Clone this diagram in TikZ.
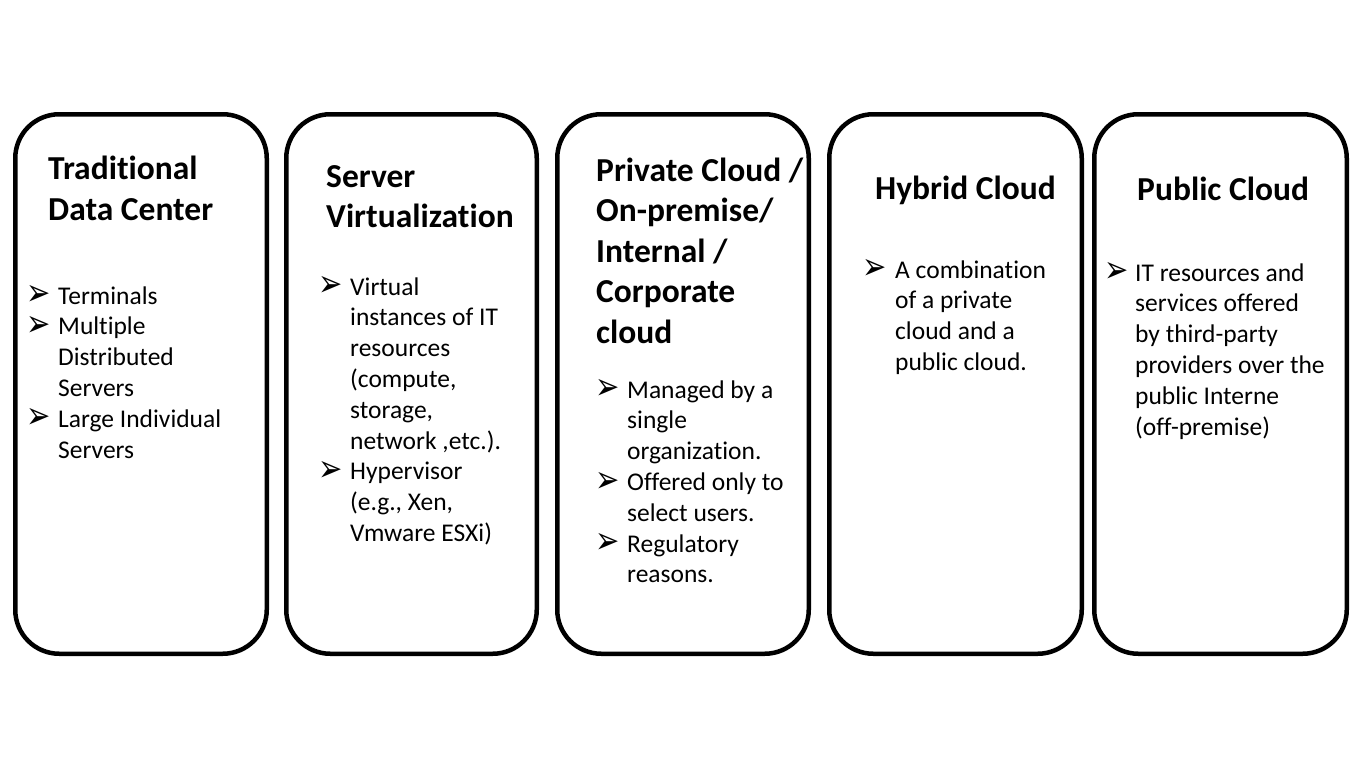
\documentclass[tikz,border=0pt]{standalone}
\usepackage{fontspec}
\setmainfont{Carlito}[RawFeature={-liga,-clig,-dlig}]
\newfontfamily\symfont{DejaVu Sans}
\tikzset{
  cbox/.style={draw=black, line width=4.5pt, rounded corners=44pt, rectangle, inner sep=0pt, minimum height=539.5pt, fill=white},
  titletxt/.style={anchor=base west, inner sep=0pt, font=\fontsize{33.5}{40.6}\selectfont\bfseries},
  bodytxt/.style={anchor=base west, inner sep=0pt, font=\fontsize{25.5}{30.8}\selectfont},
  bul/.style={anchor=base west, inner sep=0pt, yshift=-0.5pt, xshift=-2pt, text height=14pt, text depth=0pt, font=\symfont\fontsize{29}{29}\selectfont}
}
\newcommand\txtlines[6]{%
  \foreach \t [count=\i from 0] in {#6}
    \node[#5] (#1\i) at (#2, {#3+\i*#4}) {\t};}
\newcommand\arrbul{\smash{\raisebox{-1.2pt}{\scalebox{1}[1.3]{➢}}}}
\begin{document}
\begin{tikzpicture}[x=1pt, y=-1pt]
\fill[white] (0,0) rectangle (1365,768);
\useasboundingbox (0,0) rectangle (1365,768);
% boxes
\node[cbox, minimum width=251.5pt] (box1) at (141,384) {};
\node[cbox, minimum width=250.5pt] (box2) at (411.5,384) {};
\node[cbox, minimum width=251.5pt] (box3) at (683,384) {};
\node[cbox, minimum width=252.5pt] (box4) at (955.5,384) {};
\node[cbox, minimum width=252.5pt] (box5) at (1220.5,384) {};
% titles
\txtlines{ta}{48}{179}{41}{titletxt}{Traditional, Data Center}
\txtlines{tb}{326}{187}{40.5}{titletxt}{Server, Virtualization}
\txtlines{tc}{596}{181}{40.6}{titletxt}{Private Cloud /, On-premise/, Internal /, Corporate, cloud}
\txtlines{td}{875}{199}{40.6}{titletxt}{Hybrid Cloud}
\txtlines{te}{1137}{200}{40.6}{titletxt}{Public Cloud}
% body
\txtlines{la}{58}{304}{30.8}{bodytxt}{Terminals, Multiple, Distributed, Servers, Large Individual, Servers}
\txtlines{lb}{350}{295}{30.8}{bodytxt}{Virtual, instances of IT, resources, {(compute,}, {storage,}, {network ,etc.).}, Hypervisor, {(e.g., Xen,}, Vmware ESXi)}
\txtlines{lc}{627}{398}{30.8}{bodytxt}{Managed by a, single, organization., Offered only to, select users., Regulatory, reasons.}
\txtlines{ld}{895}{278}{30.8}{bodytxt}{A combination, of a private, cloud and a, public cloud.}
\txtlines{le}{1135}{281}{30.8}{bodytxt}{IT resources and, services offered, by third-party, providers over the, public Interne, (off-premise)}
% bullets
\node[bul] (ba0) at (28,304) {\arrbul};
\node[bul] (ba1) at (28,334.8) {\arrbul};
\node[bul] (ba4) at (28,427.2) {\arrbul};
\node[bul] (bb0) at (320,295) {\arrbul};
\node[bul] (bb6) at (320,479.8) {\arrbul};
\node[bul] (bc0) at (597,398) {\arrbul};
\node[bul] (bc3) at (597,490.4) {\arrbul};
\node[bul] (bc5) at (597,552) {\arrbul};
\node[bul] (bd0) at (864,278) {\arrbul};
\node[bul] (be0) at (1106,281) {\arrbul};
\end{tikzpicture}
\end{document}
